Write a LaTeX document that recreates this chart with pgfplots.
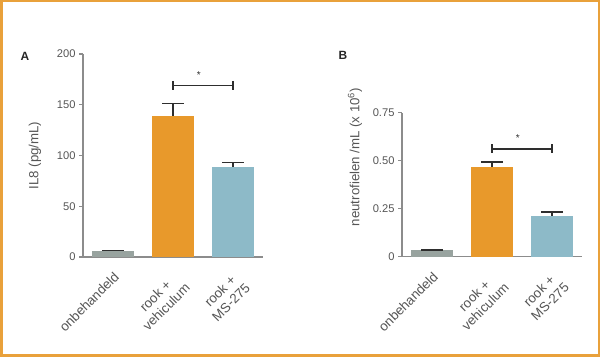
\documentclass[border=0pt]{standalone}
\usepackage{fontspec}
\setmainfont{Liberation Sans}
\usepackage{pgfplots}
\pgfplotsset{compat=1.18}
\definecolor{frameorange}{HTML}{E9A13B}
\definecolor{bargray}{HTML}{98A39F}
\definecolor{barorange}{HTML}{E8992B}
\definecolor{barblue}{HTML}{8DBAC8}
\definecolor{axisgray}{HTML}{8C8C8C}
\definecolor{txtgray}{HTML}{555555}
\definecolor{errblack}{HTML}{2E2E2E}
\pgfplotsset{
  panel/.style={
    scale only axis, width=180bp, clip=false,
    xmin=-0.5, xmax=2.5, ymin=0,
    axis x line*=bottom, axis y line*=left,
    axis line style={axisgray, line width=1.1bp, -},
    xtick={0,1,2},
    xticklabels={onbehandeld, {rook +\\vehiculum}, {rook +\\MS-275}},
    x tick style={draw=none},
    y tick style={axisgray, line width=1.1bp},
    tick align=outside, major tick length=4bp,
    yticklabel style={font=\fontsize{11.2}{13}\selectfont, text=txtgray},
    xticklabel style={font=\fontsize{13.4}{15.5}\selectfont, text=txtgray,
      xshift=0bp, yshift=-10bp,
      rotate=45, anchor=north east, align=center, inner sep=0pt},
    ylabel style={font=\fontsize{13.3}{15}\selectfont, text=txtgray, anchor=center},
  },
  barplot/.style={ybar, bar width=0.69, bar shift=0pt, draw=none, fill=#1,
    error bars/.cd, y dir=plus, y explicit,
    error bar style={line width=1.5bp, color=errblack},
    error mark options={rotate=90, mark size=11bp, line width=1.5bp, color=errblack}},
  bracket/.style={errblack, line width=1.5bp, mark=|, mark size=4.5bp,
    mark options={line width=1.5bp, errblack}},
}
\begin{document}
\begin{tikzpicture}
\useasboundingbox (0,0) rectangle (600bp,357bp);
\draw[frameorange, line width=2.5bp] (1.25bp,1.25bp) rectangle (598.75bp,355.75bp);
\node[font=\bfseries\fontsize{12}{14}\selectfont, text=black!85] at (25bp,301bp) {A};
\node[font=\bfseries\fontsize{12}{14}\selectfont, text=black!85] at (343bp,302bp) {B};
% Panel A
\begin{axis}[panel, at={(83bp,100bp)}, anchor=south west, height=203bp,
  ymax=200, ytick={0,50,100,150,200}, yticklabels={0,50,100,150,200},
  ylabel={IL8 (pg/mL)},
  ylabel style={at={(axis description cs:-0.267,0.5)}}]
\addplot[barplot=bargray] coordinates {(0,6) +- (0,0.6)};
\addplot[barplot=barorange] coordinates {(1,139) +- (0,12)};
\addplot[barplot=barblue] coordinates {(2,89) +- (0,4)};
\addplot[bracket] coordinates {(1,169) (2,169)};
\node[font=\fontsize{10}{11}\selectfont, text=errblack] at (axis cs:1.43,179) {*};
\end{axis}
% Panel B
\begin{axis}[panel, at={(402bp,100.3bp)}, anchor=south west, height=144bp,
  ymax=0.75, ytick={0,0.25,0.5,0.75}, yticklabels={0,0.25,0.50,0.75},
  ylabel={neutrofielen /mL (x 10\textsuperscript{6})},
  ylabel style={at={(axis description cs:-0.261,0.692)}}]
\addplot[barplot=bargray] coordinates {(0,0.033) +- (0,0.002)};
\addplot[barplot=barorange] coordinates {(1,0.469) +- (0,0.024)};
\addplot[barplot=barblue] coordinates {(2,0.212) +- (0,0.021)};
\addplot[bracket] coordinates {(1,0.561) (2,0.561)};
\node[font=\fontsize{10}{11}\selectfont, text=errblack] at (axis cs:1.43,0.62) {*};
\end{axis}
\end{tikzpicture}
\end{document}
